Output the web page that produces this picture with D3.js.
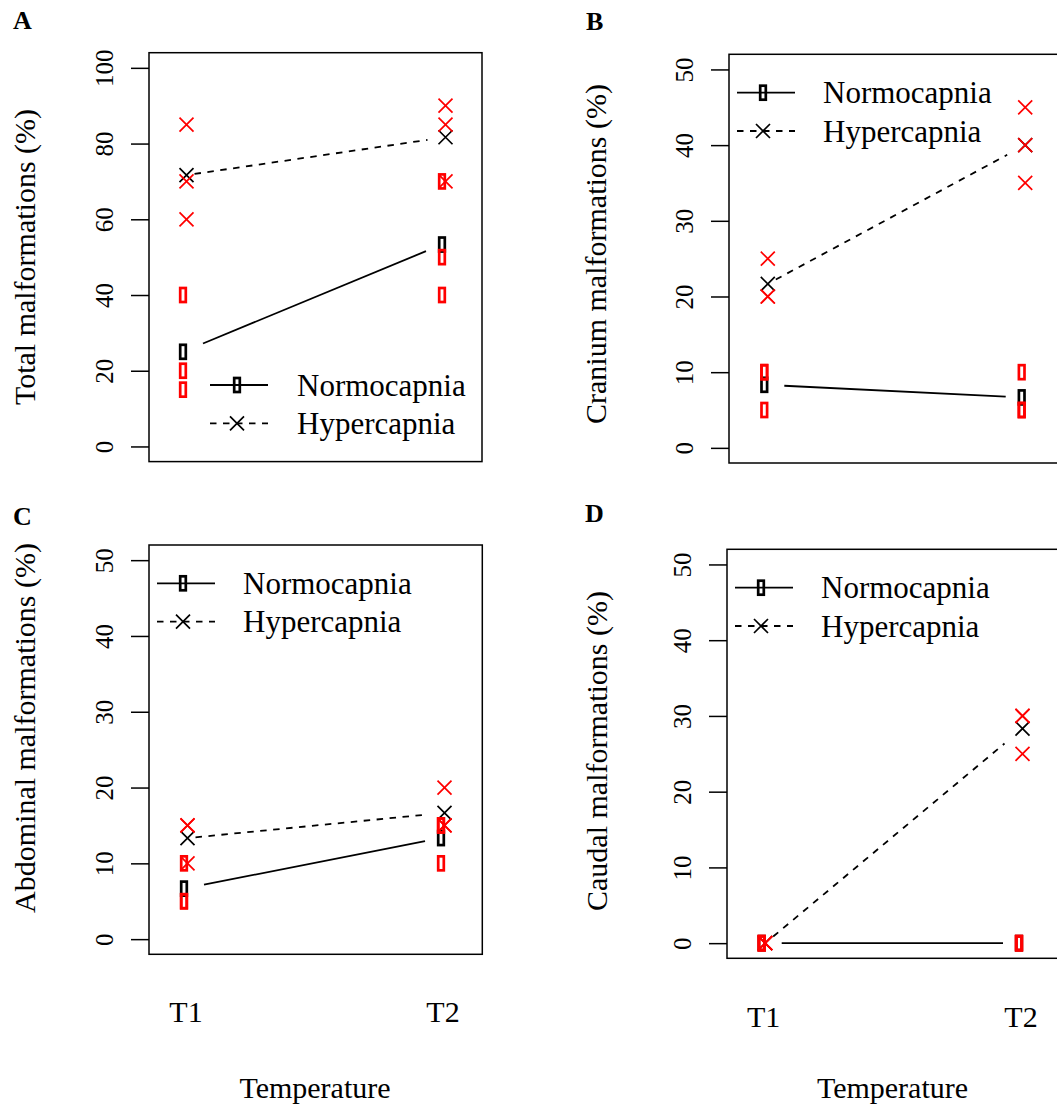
<!DOCTYPE html>
<html>
<head>
<meta charset="utf-8">
<script src="https://cdnjs.cloudflare.com/ajax/libs/d3/7.8.5/d3.min.js"></script>
<style>
  svg text { font-family: "Liberation Serif", "Times New Roman", Times, serif !important; }
</style>
</head>
<body style="margin:0; background:#fff">
<script>
// values: 3 replicates per group, in %
const temps = ["T1", "T2"];
const seriesNames = ["Normocapnia", "Hypercapnia"];

const totalNormo = [[40, 20, 15], [70, 50, 40]];
const totalHyper = [[85, 70, 60], [90, 85, 70]];
const craniumNormo = [[10, 10, 5], [10, 5, 5]];
const craniumHyper = [[25, 20, 20], [45, 40, 35]];
const abdominalNormo = [[10, 5, 5], [15, 15, 10]];
const abdominalHyper = [[15, 15, 10], [20, 15, 15]];
const caudalNormo = [[0, 0, 0], [0, 0, 0]];
const caudalHyper = [[0, 0, 0], [30, 30, 25]];

const totalTicks = [0, 20, 40, 60, 80, 100];
const partTicks = [0, 10, 20, 30, 40, 50];

// layout of the four panels (pixels)
const panels = [
  { letter: "A", lx: 13, ly: 29, ylab: "Total malformations (%)", ylx: 35, yly: 257,
    normo: totalNormo, hyper: totalHyper, ticks: totalTicks, ymax: 100,
    box: { l: 149, t: 52.7, r: 482, b: 461.6 }, t1: 183, t2: 442,
    leg: { x1: 210, x2: 268, mx: 237, y: 385, tx: 297 }, xlab: null },
  { letter: "B", lx: 586, ly: 30, ylab: "Cranium malformations (%)", ylx: 606, yly: 254,
    normo: craniumNormo, hyper: craniumHyper, ticks: partTicks, ymax: 50,
    box: { l: 729, t: 54.3, r: 1062, b: 463 }, t1: 764.3, t2: 1021.7,
    leg: { x1: 737, x2: 795, mx: 763, y: 92.7, tx: 823 }, xlab: null },
  { letter: "C", lx: 13, ly: 525, ylab: "Abdominal malformations (%)", ylx: 35, yly: 728,
    normo: abdominalNormo, hyper: abdominalHyper, ticks: partTicks, ymax: 50,
    box: { l: 149, t: 545, r: 482.3, b: 954.3 }, t1: 184, t2: 441,
    leg: { x1: 157, x2: 215, mx: 183, y: 583.3, tx: 243 },
    xlab: { ty: 1022, cx: 315, ly: 1098 } },
  { letter: "D", lx: 585, ly: 522, ylab: "Caudal malformations (%)", ylx: 607, yly: 751,
    normo: caudalNormo, hyper: caudalHyper, ticks: partTicks, ymax: 50,
    box: { l: 727, t: 549.3, r: 1059, b: 958.3 }, t1: 761.7, t2: 1019,
    leg: { x1: 735, x2: 793, mx: 761, y: 587.7, tx: 821 },
    xlab: { ty: 1027, cx: 892.5, ly: 1098 } }
];

const serif = "Liberation Serif";
const red = "#ff0000";
const crossShift = 3.5;   // crosses sit a little right of the squares
const dash = "6.5,6.5";

const svg = d3.select("body").append("svg")
  .attr("width", 1057).attr("height", 1113)
  .attr("font-family", serif)
  .style("background", "#fff");

function label(g, txt, size) {
  return g.append("text")
    .attr("font-family", serif).style("font-family", `'${serif}'`)
    .attr("font-size", size).attr("fill", "#000").text(txt);
}
function square(g, cx, cy, color) {
  g.append("rect")
    .attr("x", cx - 2.8).attr("y", cy - 7)
    .attr("width", 5.6).attr("height", 14)
    .attr("fill", "none").attr("stroke", color).attr("stroke-width", 2.7);
}
function cross(g, cx, cy, color) {
  const s = 7;
  g.append("path")
    .attr("d", `M${cx - s},${cy - s}L${cx + s},${cy + s}M${cx - s},${cy + s}L${cx + s},${cy - s}`)
    .attr("fill", "none").attr("stroke", color).attr("stroke-width", 1.7);
}

// segment between the two group means, trimmed near the markers (R type="b")
function trimmed(x, y, means, off, trimS, trimE) {
  const p1 = [x(temps[0]) + off, y(means[0])];
  const p2 = [x(temps[1]) + off, y(means[1])];
  const span = p2[0] - p1[0];
  const a = trimS / span, b = 1 - trimE / span;
  return [
    [p1[0] + a * span, p1[1] + a * (p2[1] - p1[1])],
    [p1[0] + b * span, p1[1] + b * (p2[1] - p1[1])]
  ];
}

const line = d3.line();

panels.forEach(p => {
  const g = svg.append("g");
  const pad = p.ymax * 0.04;
  const y = d3.scaleLinear().domain([-pad, p.ymax + pad]).range([p.box.b, p.box.t]);
  const x = d3.scalePoint().domain(temps).range([p.t1, p.t2]);

  // panel letter
  label(g, p.letter, 26).attr("x", p.lx).attr("y", p.ly).attr("font-weight", "bold");

  // y axis
  const ax = g.append("g").attr("transform", `translate(${p.box.l},0)`)
    .call(d3.axisLeft(y).tickValues(p.ticks).tickSize(18).tickSizeOuter(0))
    .attr("font-family", serif);
  ax.select(".domain").remove();
  ax.selectAll(".tick line").attr("stroke-width", 1.5);
  ax.selectAll(".tick text")
    .attr("transform", "rotate(-90)")
    .attr("x", 0).attr("y", -36).attr("dy", null)
    .attr("text-anchor", "middle")
    .attr("font-size", 25)
    .attr("font-family", serif)
    .style("font-family", `'${serif}'`);

  // y label
  label(g, p.ylab, 30)
    .attr("transform", `translate(${p.ylx},${p.yly}) rotate(-90)`)
    .attr("text-anchor", "middle");

  // plot box
  g.append("rect")
    .attr("x", p.box.l).attr("y", p.box.t)
    .attr("width", p.box.r - p.box.l).attr("height", p.box.b - p.box.t)
    .attr("fill", "none").attr("stroke", "#000").attr("stroke-width", 1.5);

  const mN = p.normo.map(v => d3.mean(v));
  const mH = p.hyper.map(v => d3.mean(v));

  // mean lines
  g.append("path").attr("d", line(trimmed(x, y, mN, 0, 20, 16)))
    .attr("fill", "none").attr("stroke", "#000").attr("stroke-width", 1.8);
  g.append("path").attr("d", line(trimmed(x, y, mH, crossShift, 8, 18)))
    .attr("fill", "none").attr("stroke", "#000").attr("stroke-width", 1.8)
    .attr("stroke-dasharray", dash);

  // mean markers
  temps.forEach((t, i) => {
    square(g, x(t), y(mN[i]), "#000");
    cross(g, x(t) + crossShift, y(mH[i]), "#000");
  });

  // replicate points in red
  temps.forEach((t, i) => {
    p.normo[i].forEach(v => square(g, x(t), y(v), red));
    p.hyper[i].forEach(v => cross(g, x(t) + crossShift, y(v), red));
  });

  // legend
  const L = p.leg;
  seriesNames.forEach((name, k) => {
    const ly = L.y + k * 38.3;
    g.append("line")
      .attr("x1", L.x1).attr("x2", L.x2).attr("y1", ly).attr("y2", ly)
      .attr("stroke", "#000").attr("stroke-width", 1.8)
      .attr("stroke-dasharray", k === 0 ? null : dash);
    if (k === 0) square(g, L.mx, ly, "#000"); else cross(g, L.mx, ly, "#000");
    label(g, name, 31).attr("x", L.tx).attr("y", ly + 10.5);
  });

  // x labels (bottom row only)
  if (p.xlab) {
    temps.forEach(t => {
      label(g, t, 30).attr("x", x(t) + 2).attr("y", p.xlab.ty)
        .attr("text-anchor", "middle");
    });
    label(g, "Temperature", 30).attr("x", p.xlab.cx).attr("y", p.xlab.ly)
      .attr("text-anchor", "middle");
  }
});
</script>
</body>
</html>
